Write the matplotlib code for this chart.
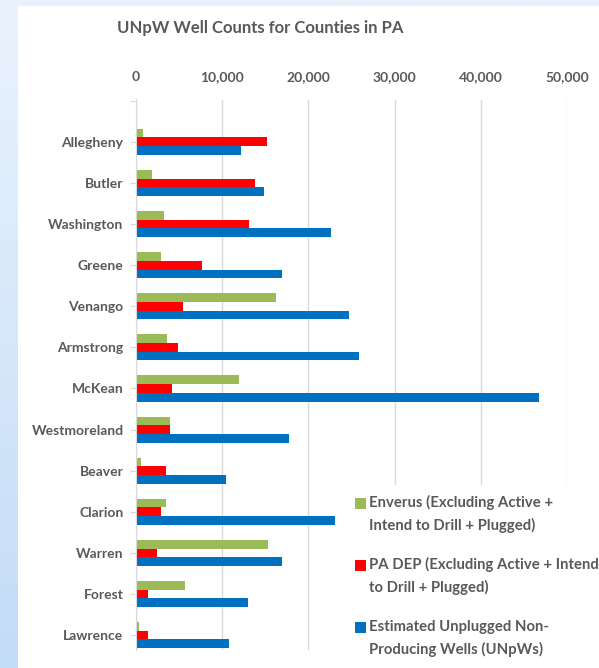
import numpy as np
import matplotlib.pyplot as plt
from matplotlib.patches import Rectangle
from matplotlib.colors import LinearSegmentedColormap

counties = ['Allegheny', 'Butler', 'Washington', 'Greene', 'Venango', 'Armstrong',
            'McKean', 'Westmoreland', 'Beaver', 'Clarion', 'Warren', 'Forest', 'Lawrence']
enverus = [800, 1900, 3250, 2900, 16200, 3550, 12000, 3900, 550, 3450, 15350, 5700, 300]
pa_dep = [15200, 13800, 13100, 7700, 5500, 4850, 4150, 4000, 3450, 2900, 2400, 1400, 1400]
unpw = [12200, 14800, 22600, 16900, 24750, 25900, 46800, 17700, 10400, 23050, 16950, 12950, 10800]

series_names = ['Enverus (Excluding Active +\nIntend to Drill + Plugged)',
                'PA DEP (Excluding Active + Intend\nto Drill + Plugged)',
                'Estimated Unplugged Non-\nProducing Wells (UNpWs)']
colors = ['#9bbb59', '#ff0000', '#0070c0']
xticks = [0, 10000, 20000, 30000, 40000, 50000]

plt.rcParams['font.family'] = ['Lato', 'DejaVu Sans']
plt.rcParams['font.weight'] = 'bold'
gray = '#595959'

W, H = 599, 668
fig = plt.figure(figsize=(W / 100, H / 100), dpi=100)

# light blue slide background with a white panel on top
bg = fig.add_axes([0, 0, 1, 1], zorder=-10)
grad = np.linspace(0, 1, 256).reshape(-1, 1)
cmap = LinearSegmentedColormap.from_list('bg', ['#eaf3fd', '#c3dcf7'])
bg.imshow(grad, aspect='auto', cmap=cmap, extent=[0, 1, 0, 1], origin='upper')
bg.add_patch(Rectangle((18 / W, 0), 1 - 18 / W, 1 - 6 / H, facecolor='white', edgecolor='none'))
bg.set_xlim(0, 1)
bg.set_ylim(0, 1)
bg.axis('off')

ax = fig.add_axes([136 / W, 1 - 649.5 / H, (567 - 136) / W, (649.5 - 99.5) / H])
ax.patch.set_alpha(0)

y = np.arange(len(counties))
h = 0.212
ax.barh(y - h, enverus, h, color=colors[0])
ax.barh(y, pa_dep, h, color=colors[1])
ax.barh(y + h, unpw, h, color=colors[2])

ax.set_xlim(0, 50000)
ax.set_ylim(12.35, -1.03)

ax.xaxis.tick_top()
ax.set_xticks(xticks)
ax.set_xticklabels([f'{v:,}' for v in xticks])
ax.tick_params(axis='x', length=0, pad=12, labelsize=10, labelcolor=gray)
ax.grid(axis='x', color='#d9d9d9', lw=1)
ax.set_axisbelow(True)

ax.set_yticks(np.arange(-1, len(counties)))
ax.set_yticklabels([''] + counties)
ax.tick_params(axis='y', length=4, color='#d9d9d9', pad=5, labelsize=10, labelcolor=gray)

for s in ['top', 'right', 'bottom']:
    ax.spines[s].set_visible(False)
ax.spines['left'].set_color('#d9d9d9')

fig.text(117 / W, 1 - 28 / H, 'UNpW Well Counts for Counties in PA', ha='left', va='center',
         fontsize=12, fontweight='bold', color=gray)

# legend box in the lower right, over the grid
fig.add_artist(Rectangle((345 / W, 0), (W - 345) / W, (H - 485) / H, transform=fig.transFigure,
                         facecolor='white', edgecolor='none', zorder=2))
for i, (name, c) in enumerate(zip(series_names, colors)):
    top = 498 + i * 62
    fig.add_artist(Rectangle((355 / W, 1 - (top + 11) / H), 11 / W, 11 / H, transform=fig.transFigure,
                             facecolor=c, edgecolor='none', zorder=3))
    # multiline baseline is the last line's, so anchor on the second row
    fig.text(369 / W, 1 - (top + 32) / H, name, ha='left', va='baseline', fontsize=10.7,
             linespacing=1.65, color=gray, zorder=3)

fig.savefig('out.png', dpi=100)
